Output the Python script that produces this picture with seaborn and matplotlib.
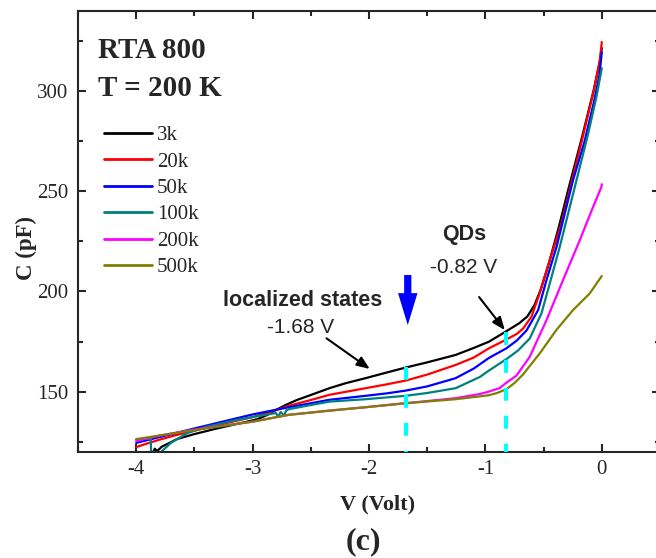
import matplotlib
matplotlib.use("Agg")
import matplotlib.pyplot as plt
import seaborn as sns
import pandas as pd
from matplotlib.ticker import MultipleLocator

# ---------------- data ----------------
labels = ["3k", "20k", "50k", "100k", "200k", "500k"]
colors = ["#000000", "#FF0000", "#0000FF", "#008080", "#FF00FF", "#808000"]

v_3k = [-4.00, -3.87, -3.84, -3.82, -3.78, -3.70, -3.65, -3.50, -3.30, -3.10, -2.96, -2.88, -2.80,
        -2.72, -2.62, -2.50, -2.34, -2.20, -2.03, -1.85, -1.685, -1.50, -1.256, -1.10, -0.97, -0.827,
        -0.71, -0.64, -0.58, -0.526, -0.455, -0.37, -0.283, -0.17, -0.07, -0.01, 0.0]
c_3k = [115.0, 118.0, 121.5, 120.3, 122.5, 124.8, 126.3, 128.8, 131.7, 134.3, 136.2, 138.2, 140.8,
        143.2, 145.8, 148.3, 151.7, 154.2, 156.7, 159.5, 162.0, 164.6, 168.3, 171.8, 174.9, 179.9,
        184.1, 187.5, 193.0, 200.7, 214.0, 232.0, 252.0, 277.0, 300.4, 317.0, 321.5]

v_20k = [-4.00, -3.90, -3.80, -3.65, -3.50, -3.30, -3.00, -2.85, -2.69, -2.50, -2.34, -2.03, -1.85,
         -1.685, -1.50, -1.256, -1.10, -0.97, -0.82, -0.73, -0.676, -0.604, -0.533, -0.447, -0.346,
         -0.26, -0.17, -0.07, -0.02, 0.0]
c_20k = [122.3, 124.2, 126.0, 128.4, 130.5, 133.3, 137.3, 139.8, 142.9, 145.8, 148.4, 151.7, 153.6,
         155.5, 158.5, 163.3, 167.0, 171.6, 176.0, 178.8, 181.5, 187.4, 199.2, 215.7, 234.0,
         254.5, 275.5, 300.0, 314.0, 324.5]

v_50k = [-4.00, -3.80, -3.50, -3.20, -3.00, -2.69, -2.50, -2.34, -2.03, -1.85, -1.685, -1.50, -1.256,
         -1.10, -0.97, -0.82, -0.73, -0.647, -0.547, -0.475, -0.389, -0.247, -0.15, -0.07, -0.02, 0.0]
c_50k = [124.4, 127.3, 131.6, 135.8, 138.6, 142.2, 144.2, 145.9, 147.9, 149.1, 150.5, 152.6, 156.7,
         161.5, 166.8, 171.6, 175.5, 180.5, 190.7, 205.7, 222.3, 255.6, 274.5, 294.0, 308.0, 319.5]

v_100k = [-4.00, -3.94, -3.875, -3.87, -3.80, -3.78, -3.70, -3.56, -3.40, -3.13, -2.95, -2.80, -2.78,
          -2.76, -2.73, -2.71, -2.69, -2.50, -2.34, -2.03, -1.685, -1.50, -1.256, -1.048, -0.97,
          -0.82, -0.72, -0.619, -0.518, -0.447, -0.361, -0.217, -0.12, -0.046, 0.0]
c_100k = [126.0, 126.3, 126.5, 115.0, 116.0, 120.2, 124.5, 129.3, 132.4, 135.9, 137.8, 139.3, 137.4,
          139.8, 138.2, 140.7, 141.2, 143.3, 145.0, 146.2, 147.9, 149.3, 151.7, 157.3, 160.5,
          166.2, 170.5, 176.5, 189.1, 204.0, 222.3, 255.6, 278.0, 297.2, 311.4]

v_200k = [-4.00, -3.80, -3.50, -3.00, -2.69, -2.34, -2.03, -1.685, -1.256, -1.048, -0.97, -0.876,
          -0.83, -0.733, -0.619, -0.475, -0.333, -0.189, -0.075, -0.003, 0.0]
c_200k = [125.4, 128.0, 131.1, 135.0, 138.4, 140.5, 142.2, 144.2, 146.7, 148.8, 150.0, 151.8,
          154.0, 158.0, 167.4, 185.7, 205.7, 225.6, 242.2, 252.2, 253.5]

v_500k = [-4.00, -3.70, -3.50, -3.00, -2.69, -2.34, -2.03, -1.685, -1.256, -1.05, -0.97, -0.90,
          -0.82, -0.75, -0.676, -0.533, -0.39, -0.247, -0.104, 0.0]
c_500k = [126.3, 129.0, 130.8, 135.0, 138.4, 140.5, 142.2, 144.2, 146.2, 147.6, 148.2, 149.3,
          151.2, 154.3, 158.6, 169.1, 180.8, 190.7, 199.0, 207.7]

x_ticks = [-4, -3, -2, -1, 0]
y_ticks = [150, 200, 250, 300]

# annotation values
guide_v = [-1.68, -0.82]
guide_top = [162.3, 179.9]

# ---------------- build long table ----------------
series_v = [v_3k, v_20k, v_50k, v_100k, v_200k, v_500k]
series_c = [c_3k, c_20k, c_50k, c_100k, c_200k, c_500k]
rows = []
for lab, vs, cs in zip(labels, series_v, series_c):
    for i, (v, c) in enumerate(zip(vs, cs)):
        rows.append({"V": v, "C": c, "freq": lab, "idx": i})
df = pd.DataFrame(rows)

# ---------------- style ----------------
sns.set_style("ticks")
plt.rcParams["font.family"] = ["Liberation Serif", "DejaVu Serif"]
plt.rcParams["axes.unicode_minus"] = False
plt.rcParams["axes.linewidth"] = 1.5

fig = plt.figure(figsize=(6.56, 5.58), dpi=100)
W, H = 656, 558
ax = fig.add_axes([78 / W, 1 - 451.7 / H, 582 / W, 440.7 / H])

sns.lineplot(data=df, x="V", y="C", hue="freq", hue_order=labels,
             palette=dict(zip(labels, colors)), sort=False, estimator=None,
             units="freq", lw=1.6, ax=ax, legend=True)

ax.set_xlim(-4.5, 0.5)
ax.set_ylim(120, 340)
ax.set_xticks(x_ticks)
ax.set_xticklabels([str(t) for t in x_ticks])
ax.set_yticks(y_ticks)
ax.xaxis.set_minor_locator(MultipleLocator(0.5))
ax.yaxis.set_minor_locator(MultipleLocator(25))
ax.tick_params(which="both", direction="in", top=True, right=True, width=1.5)
ax.tick_params(which="major", length=6)
ax.tick_params(which="minor", length=3.3)
ax.tick_params(axis="x", which="major", labelsize=15, pad=6)
ax.tick_params(axis="y", which="major", labelsize=15, pad=7)
for s in ax.spines.values():
    s.set_linewidth(1.5)
    s.set_visible(True)

ax.set_xlabel("V (Volt)", fontsize=16, fontweight="bold")
ax.xaxis.label.set_va("baseline")
ax.xaxis.set_label_coords((377.5 - 78) / 582, (451.7 - 509.3) / 440.7)
ax.set_ylabel("C (pF)", fontsize=16.5, fontweight="bold")
ax.yaxis.label.set_va("center")
ax.yaxis.set_label_coords((26 - 78) / 582, (451.7 - 248) / 440.7)

# legend
handles, labs = ax.get_legend_handles_labels()
leg = ax.legend(handles, labs, loc="upper left", frameon=False, fontsize=15,
                bbox_to_anchor=(104 / W, 1 - 125.5 / H), bbox_transform=fig.transFigure,
                borderpad=0, borderaxespad=0, handlelength=2.3, handletextpad=0.25,
                labelspacing=0.33)
for l in leg.get_lines():
    l.set_linewidth(2.0)

# titles
ax.text(-4.33, 316.4, "RTA 800", fontsize=21, fontweight="bold", ha="left", va="baseline")
ax.text(-4.33, 297.7, "T = 200 K", fontsize=21, fontweight="bold", ha="left", va="baseline")

# dashed guides
for gv, gt in zip(guide_v, guide_top):
    ax.plot([gv, gv], [gt, 120], color="#00FFFF", lw=3, dashes=(3.1, 3.6), zorder=5,
            solid_capstyle="butt", dash_capstyle="butt")

sans = ["Liberation Sans", "DejaVu Sans"]
ax.text(-2.566, 192.7, "localized states", family=sans, fontsize=15.5, fontweight="bold",
        ha="center", va="baseline")
ax.text(-2.59, 179.1, "-1.68 V", family=sans, fontsize=15, ha="center", va="baseline")
ax.text(-1.186, 225.7, "QDs", family=sans, fontsize=15.5, fontweight="bold",
        ha="center", va="baseline")
ax.text(-1.19, 209.3, "-0.82 V", family=sans, fontsize=15, ha="center", va="baseline")

# arrows
arrow_kw = dict(arrowstyle="-|>,head_length=0.55,head_width=0.22", color="black", lw=1.5,
                mutation_scale=14, shrinkA=0, shrinkB=0)
ax.annotate("", xy=(-1.993, 161.3), xytext=(-2.365, 176.6), arrowprops=arrow_kw)
ax.annotate("", xy=(-0.833, 180.7), xytext=(-1.054, 197.2), arrowprops=arrow_kw)
ax.annotate("", xy=(-1.667, 183.2), xytext=(-1.667, 208.2),
            arrowprops=dict(arrowstyle="simple,head_length=1.15,head_width=0.7,tail_width=0.26",
                            color="#0000FF", mutation_scale=20, shrinkA=0, shrinkB=0, lw=0))

fig.text(363 / W, 1 - 549 / H, "(c)", fontsize=23, fontweight="bold", ha="center", va="baseline")

fig.savefig("out.png", dpi=100)
